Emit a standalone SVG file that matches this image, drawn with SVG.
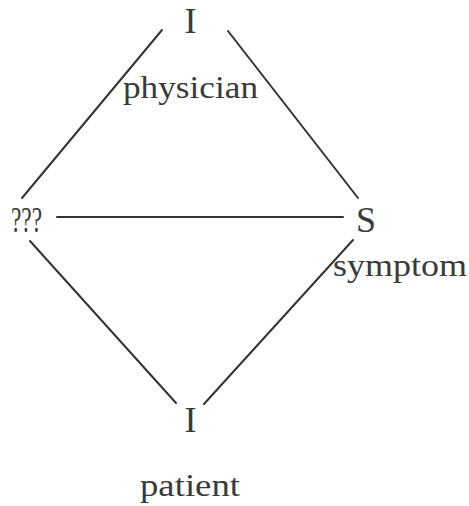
<svg xmlns="http://www.w3.org/2000/svg" width="469" height="506" viewBox="0 0 469 506">
<style>
.t{font-family:"Liberation Serif","Times New Roman",serif;fill:#3a3a3a}
.big{font-size:36px}
.w{font-size:31px}
.e{stroke:#333;stroke-width:2;fill:none;stroke-linecap:round}
</style>
<rect width="469" height="506" fill="#fff"/>
<g id="connectors">
<line class="e" x1="162" y1="30" x2="22" y2="198"/>
<line class="e" x1="228" y1="31" x2="358" y2="198"/>
<line class="e" x1="57" y1="217" x2="343" y2="217"/>
<line class="e" x1="30" y1="241" x2="176" y2="403"/>
<line class="e" x1="353" y1="240" x2="204" y2="404"/>
</g>
<g id="node-top"><text class="t big" x="190.5" y="33" text-anchor="middle">I</text></g>
<g id="label-physician"><text class="t w" x="123" y="98" textLength="135" lengthAdjust="spacingAndGlyphs">physician</text></g>
<g id="node-left"><text class="t big" x="11" y="232" textLength="31" lengthAdjust="spacingAndGlyphs">???</text></g>
<g id="node-right"><text class="t big" x="356" y="232">S</text></g>
<g id="label-symptom"><text class="t w" x="333" y="276" textLength="134" lengthAdjust="spacingAndGlyphs">symptom</text></g>
<g id="node-bottom"><text class="t big" x="190.5" y="432" text-anchor="middle">I</text></g>
<g id="label-patient"><text class="t w" x="140" y="496" textLength="100" lengthAdjust="spacingAndGlyphs">patient</text></g>
</svg>
